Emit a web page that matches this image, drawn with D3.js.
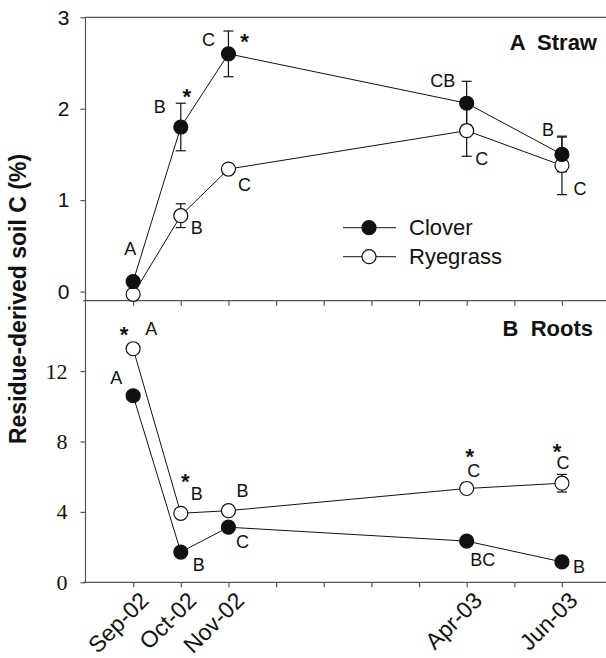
<!DOCTYPE html>
<html><head><meta charset="utf-8">
<script src="https://cdnjs.cloudflare.com/ajax/libs/d3/7.8.5/d3.min.js"></script>
<style>body{margin:0;background:#fff}svg{display:block}</style>
</head><body>
<svg id="chart" width="606" height="658"></svg>
<script>
// ---------- data ----------
const dates = ["Sep-02","Oct-02","Nov-02","Apr-03","Jun-03"];
const tickMonths = ["Sep-02","Oct-02","Nov-02","Dec-02","Jan-03","Feb-03","Mar-03","Apr-03","May-03","Jun-03","Jul-03"];
const series = ["Clover","Ryegrass"];

const strawClover    = [0.11, 1.80, 2.60, 2.06, 1.50];
const strawCloverErr = [0.00, 0.26, 0.25, 0.24, 0.19];
const strawRye       = [-0.03, 0.83, 1.34, 1.76, 1.38];
const strawRyeErr    = [0.00, 0.13, 0.00, 0.28, 0.32];

const rootClover     = [10.6, 1.72, 3.13, 2.34, 1.16];
const rootCloverErr  = [0, 0, 0, 0, 0];
const rootRye        = [13.27, 3.92, 4.07, 5.33, 5.63];
const rootRyeErr     = [0, 0, 0, 0, 0.5];

const strawTicks = [0, 1, 2, 3];
const rootTicks  = [0, 4, 8, 12];

const strawCloverLetters = ["A","B","C","CB","B"];
const strawCloverStars   = [false,true,true,false,false];
const strawRyeLetters    = ["","B","C","C","C"];
const rootCloverLetters  = ["A","B","C","BC","B"];
const rootRyeLetters     = ["A","B","B","C","C"];
const rootRyeStars       = [true,true,false,true,true];

// ---------- label placement (px offsets from the point) ----------
const strawCloverLetterOff = [[-3,-33],[-21,-20],[-20,-14],[-24,-22],[-14,-24]];
const strawCloverStarOff   = [[0,0],[6,-35],[16,-17],[0,0],[0,0]];
const strawRyeLetterOff    = [[0,0],[16,12],[16,16],[15,28],[18,24]];
const rootCloverLetterOff  = [[-17,-18],[18,13],[14,15],[16,19],[17,5]];
const rootRyeLetterOff     = [[18,-20],[16,-19],[14,-20],[7,-17],[1,-20]];
const rootRyeStarOff       = [[-9,-19],[4.5,-36],[0,0],[3,-37],[-5,-36]];

// ---------- setup ----------
const svg = d3.select("#chart");
const parse = d3.timeParse("%b-%y");
const base = parse("Aug-02");
const monthIdx = s => { const d = parse(s); return (d.getFullYear()-base.getFullYear())*12 + d.getMonth()-base.getMonth(); };

const x = d3.scaleLinear().domain([0, 11]).range([85.5, 609.6]);
const yTop = d3.scaleLinear().domain([-0.1, 3]).range([300.7, 17.3]);
const yBot = d3.scaleLinear().domain([0, 16]).range([582.3, 300.7]);

const axisCol = "#555";
const sans = "'Liberation Sans', Arial, sans-serif";
const serif = "'Liberation Serif', 'Times New Roman', serif";
const R = 7;

// frame line (top)
svg.append("line").attr("x1",85.5).attr("x2",606).attr("y1",yTop(3)).attr("y2",yTop(3)).attr("stroke",axisCol).attr("stroke-width",1.2);

function xAxis(yPos){
  const g = svg.append("g").attr("transform",`translate(0,${yPos})`)
    .call(d3.axisBottom(x).tickValues(tickMonths.map(monthIdx)).tickSize(5).tickFormat(""));
  g.select(".domain").attr("d",`M83,0H606`);
  g.selectAll("line,path").attr("stroke",axisCol).attr("stroke-width",1.2);
  return g;
}
xAxis(yTop.range()[0]);
xAxis(yBot.range()[0]);

// y axes
const gyT = svg.append("g").attr("transform","translate(85.5,0)")
  .call(d3.axisLeft(yTop).tickValues(strawTicks).tickSize(5).tickPadding(11).tickFormat(d3.format("d")));
gyT.select(".domain").remove();
gyT.selectAll("text").style("font-family",sans).style("font-size","21px").attr("fill","#111");
const gyB = svg.append("g").attr("transform","translate(85.5,0)")
  .call(d3.axisLeft(yBot).tickValues(rootTicks).tickSize(5).tickPadding(13).tickFormat(d3.format("d")));
gyB.select(".domain").remove();
gyB.selectAll("text").style("font-family",serif).style("font-size","22px").attr("fill","#111");
svg.selectAll("g.tick line").attr("stroke",axisCol).attr("stroke-width",1.2);
svg.append("line").attr("x1",85.5).attr("x2",85.5).attr("y1",yTop(3)).attr("y2",yBot(0)).attr("stroke",axisCol).attr("stroke-width",1.2);

// x tick labels
svg.append("g").selectAll("text").data(dates).join("text")
  .attr("transform",d=>`translate(${x(monthIdx(d))+17},602) rotate(-45)`)
  .attr("text-anchor","end").style("font-family",sans).style("font-size","23px").attr("fill","#111")
  .text(d=>d);

// y title
svg.append("text").attr("transform","translate(18,299) rotate(-90)")
  .attr("text-anchor","middle").attr("dominant-baseline","central")
  .style("font-family",sans).style("font-weight","bold").style("font-size","23px").attr("fill","#111")
  .text("Residue-derived soil C (%)");

// series drawing
function drawSeries(vals, errs, yS){
  const pts = vals.map((v,i)=>({x:x(monthIdx(dates[i])), y:yS(v), e:errs[i], v}));
  svg.append("path").datum(pts)
    .attr("d", d3.line().x(d=>d.x).y(d=>d.y))
    .attr("fill","none").attr("stroke","#111").attr("stroke-width",1);
  const eb = svg.append("g").attr("stroke","#111").attr("stroke-width",1.2);
  pts.filter(p=>p.e>0).forEach(p=>{
    const y1 = yS(p.v+p.e), y2 = yS(p.v-p.e);
    eb.append("line").attr("x1",p.x).attr("x2",p.x).attr("y1",y1).attr("y2",y2);
    eb.append("line").attr("x1",p.x-5).attr("x2",p.x+5).attr("y1",y1).attr("y2",y1);
    eb.append("line").attr("x1",p.x-5).attr("x2",p.x+5).attr("y1",y2).attr("y2",y2);
  });
  return pts;
}
function drawMarkers(pts, filled){
  svg.append("g").selectAll("circle").data(pts).join("circle")
    .attr("cx",d=>d.x).attr("cy",d=>d.y).attr("r",R)
    .attr("fill",filled?"#111":"#fff").attr("stroke","#111").attr("stroke-width",1.2);
}
function drawLetters(pts, letters, off, stars, starOff){
  pts.forEach((p,i)=>{
    if(letters[i]) svg.append("text").attr("x",p.x+off[i][0]).attr("y",p.y+off[i][1])
      .attr("text-anchor","middle").attr("dominant-baseline","central")
      .style("font-family",sans).style("font-size","18px").attr("fill","#111").text(letters[i]);
    if(stars && stars[i]) svg.append("text").attr("x",p.x+starOff[i][0]).attr("y",p.y+starOff[i][1]+0.55*22)
      .attr("text-anchor","middle")
      .style("font-family",sans).style("font-size","22px").style("font-weight","bold").attr("fill","#111").text("*");
  });
}

// Straw panel
const sC = drawSeries(strawClover, strawCloverErr, yTop);
const sR = drawSeries(strawRye, strawRyeErr, yTop);
drawMarkers(sR,false);
drawMarkers(sC,true);
drawLetters(sC, strawCloverLetters, strawCloverLetterOff, strawCloverStars, strawCloverStarOff);
drawLetters(sR, strawRyeLetters, strawRyeLetterOff, null, null);

// Roots panel
const rC = drawSeries(rootClover, rootCloverErr, yBot);
const rR = drawSeries(rootRye, rootRyeErr, yBot);
drawMarkers(rC,true);
drawMarkers(rR,false);
drawLetters(rC, rootCloverLetters, rootCloverLetterOff, null, null);
drawLetters(rR, rootRyeLetters, rootRyeLetterOff, rootRyeStars, rootRyeStarOff);

// panel labels
svg.append("text").attr("x",597).attr("y",50).attr("text-anchor","end")
  .style("font-family",sans).style("font-weight","bold").style("font-size","22px").attr("fill","#111")
  .style("white-space","pre").text("A  Straw");
svg.append("text").attr("x",593).attr("y",336).attr("text-anchor","end")
  .style("font-family",sans).style("font-weight","bold").style("font-size","22px").attr("fill","#111")
  .style("white-space","pre").text("B  Roots");

// legend
const legY = [227.7, 256.7];
series.forEach((s,i)=>{
  const g = svg.append("g");
  g.append("line").attr("x1",343).attr("x2",396).attr("y1",legY[i]).attr("y2",legY[i]).attr("stroke","#111").attr("stroke-width",1);
  g.append("circle").attr("cx",369).attr("cy",legY[i]).attr("r",R)
    .attr("fill",i===0?"#111":"#fff").attr("stroke","#111").attr("stroke-width",1.2);
  g.append("text").attr("x",409).attr("y",legY[i]).attr("dominant-baseline","central")
    .style("font-family",sans).style("font-size","22px").attr("fill","#111").text(s);
});
</script>
</body></html>
